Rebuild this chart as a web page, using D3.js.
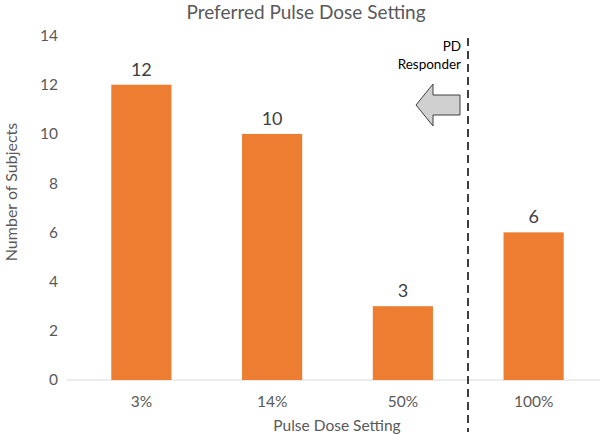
<!DOCTYPE html>
<html><head><meta charset="utf-8">
<script src="https://cdn.jsdelivr.net/npm/d3@7"></script>
<style>body{margin:0;background:#fff;} svg{display:block;font-family:Lato, "Open Sans", sans-serif;}</style>
</head><body>
<svg id="c" width="600" height="435"></svg>
<script>
const categories = ["3%", "14%", "50%", "100%"];
const values = [12, 10, 3, 6];
const yTicks = [0, 2, 4, 6, 8, 10, 12, 14];
const title = "Preferred Pulse Dose Setting";
const xTitle = "Pulse Dose Setting";
const yTitle = "Number of Subjects";
const annotation = ["PD", "Responder"];

const svg = d3.select("#c");
const x = d3.scaleBand().domain(categories).range([76, 599]).paddingInner(0.54).paddingOuter(0.27);
const y = d3.scaleLinear().domain([0, 14]).range([380, 35.5]);

// title
svg.append("text").attr("x", 306).attr("y", 19).attr("text-anchor", "middle")
  .attr("font-size", 19).attr("fill", "#595959").text(title);

// y axis labels
const yAxis = d3.axisLeft(y).tickValues(yTicks).tickSize(0).tickPadding(0);
const ya = svg.append("g").attr("transform", "translate(58,0)").call(yAxis);
ya.select(".domain").remove();
ya.selectAll("text").attr("font-size", 15.5).attr("fill", "#595959").attr("font-family", "Lato");

// baseline
svg.append("line").attr("x1", 67).attr("x2", 600).attr("y1", y(0)).attr("y2", y(0))
  .attr("stroke", "#D9D9D9").attr("stroke-width", 1.2);

// bars
svg.selectAll("rect.bar").data(values).join("rect").attr("class", "bar")
  .attr("x", (d, i) => x(categories[i])).attr("width", x.bandwidth())
  .attr("y", d => y(d)).attr("height", d => y(0) - y(d)).attr("fill", "#ED7D31");

// value labels
svg.selectAll("text.val").data(values).join("text").attr("class", "val")
  .attr("x", (d, i) => x(categories[i]) + x.bandwidth() / 2).attr("y", d => y(d) - 9)
  .attr("text-anchor", "middle").attr("font-size", 18).attr("fill", "#404040").text(d => d);

// x axis
const xAxis = d3.axisBottom(x).tickSize(0).tickPadding(0);
const xa = svg.append("g").attr("transform", "translate(0,396)").call(xAxis);
xa.select(".domain").remove();
xa.selectAll("text").attr("font-size", 15.5).attr("fill", "#595959").attr("font-family", "Lato");

// axis titles
svg.append("text").attr("x", 337).attr("y", 431).attr("text-anchor", "middle")
  .attr("font-size", 15.5).attr("fill", "#595959").text(xTitle);
svg.append("text").attr("transform", "translate(17,192) rotate(-90)").attr("text-anchor", "middle")
  .attr("font-size", 16).attr("fill", "#595959").text(yTitle);

// dashed separator
svg.append("line").attr("x1", 468).attr("x2", 468).attr("y1", 38).attr("y2", 432)
  .attr("stroke", "#000").attr("stroke-width", 1.5).attr("stroke-dasharray", "8,5");

// annotation
svg.selectAll("text.ann").data(annotation).join("text").attr("class", "ann")
  .attr("x", 461).attr("y", (d, i) => 51 + i * 18).attr("text-anchor", "end")
  .attr("font-size", 13.5).attr("fill", "#000").text(d => d);

// arrow
const arrow = [[416,105],[433,84],[433,95],[460,95],[460,115],[433,115],[433,126]];
svg.append("path").attr("d", d3.line()(arrow) + "Z").attr("fill", "#D0D0D0")
  .attr("stroke", "#404040").attr("stroke-width", 1);
</script>
</body></html>
